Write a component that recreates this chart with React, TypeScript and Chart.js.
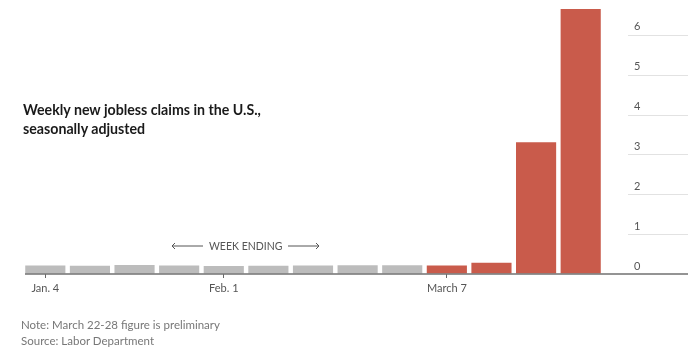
import React, { useEffect, useRef } from "react";
import { Chart, registerables } from "chart.js";

Chart.register(...registerables);

const weeks = [
  "Jan. 4", "Jan. 11", "Jan. 18", "Jan. 25", "Feb. 1", "Feb. 8", "Feb. 15",
  "Feb. 22", "Feb. 29", "March 7", "March 14", "March 21", "March 28",
];
// initial jobless claims, millions
const claims = [0.216, 0.207, 0.223, 0.216, 0.203, 0.205, 0.211, 0.219, 0.217, 0.211, 0.282, 3.307, 6.648];
const labeledWeeks = ["Jan. 4", "Feb. 1", "March 7"];
const yTicks = [0, 1, 2, 3, 4, 5, 6];
const firstSurgeWeek = "March 7";

const GRAY = "#bcbcbc";
const RED = "#c95b4b";

const rightGridPlugin = {
  id: "rightGrid",
  afterDraw(chart: any) {
    const { ctx, chartArea } = chart;
    const y = chart.scales.y;
    const x = chart.scales.x;
    ctx.save();
    ctx.strokeStyle = "#e2e2e2";
    ctx.lineWidth = 1;
    y.ticks.forEach((t: any) => {
      if (t.value === 0) return;
      const py = Math.round(y.getPixelForValue(t.value)) + 0.5;
      ctx.beginPath();
      ctx.moveTo(chartArea.right + 25, py);
      ctx.lineTo(y.right, py);
      ctx.stroke();
    });
    const by = y.getPixelForValue(0);
    ctx.strokeStyle = "#707070";
    ctx.lineWidth = 1.5;
    ctx.beginPath();
    ctx.moveTo(x.left + 2, by);
    ctx.lineTo(y.right, by);
    ctx.stroke();
    ctx.restore();
  },
};

function ClaimsChart() {
  const ref = useRef<HTMLCanvasElement | null>(null);
  useEffect(() => {
    if (!ref.current) return;
    const surgeIdx = weeks.indexOf(firstSurgeWeek);
    const chart = new Chart(ref.current, {
      type: "bar",
      data: {
        labels: weeks,
        datasets: [
          {
            data: claims,
            backgroundColor: claims.map((_, i) => (i >= surgeIdx ? RED : GRAY)),
            borderWidth: 0,
            barPercentage: 0.9,
            categoryPercentage: 1,
          },
        ],
      },
      plugins: [rightGridPlugin],
      options: {
        animation: false,
        responsive: false,
        devicePixelRatio: 1,
        layout: { padding: { left: 23, right: 11, top: 3, bottom: 0 } },
        plugins: { legend: { display: false }, tooltip: { enabled: false }, title: { display: false } },
        scales: {
          x: {
            border: { display: false },
            grid: {
              offset: false,
              drawOnChartArea: false,
              drawTicks: true,
              tickLength: 4,
              color: (c: any) =>
                c.tick && labeledWeeks.includes(weeks[c.index]) ? "#666" : "rgba(0,0,0,0)",
            },
            ticks: {
              autoSkip: false,
              maxRotation: 0,
              padding: 4,
              color: "#555",
              font: { family: "Lato", size: 11 },
              callback: (_v: any, i: number) => (labeledWeeks.includes(weeks[i]) ? weeks[i] : ""),
            },
            afterFit: (s: any) => {
              s.height = 76;
              s.paddingLeft = 0;
              s.paddingRight = 0;
            },
          },
          y: {
            position: "right",
            min: 0,
            max: 6.8,
            border: { display: false },
            grid: { display: true, drawOnChartArea: false, drawTicks: false, color: "rgba(0,0,0,0)" },
            ticks: {
              padding: 31,
              labelOffset: -8,
              color: "#555",
              font: { family: "Lato", size: 11 },
            },
            afterBuildTicks: (s: any) => {
              s.ticks = yTicks.map((v) => ({ value: v }));
            },
            afterFit: (s: any) => {
              s.width = 85;
              s.paddingTop = 0;
              s.paddingBottom = 0;
            },
          },
        },
      },
    } as any);
    return () => chart.destroy();
  }, []);
  return <canvas ref={ref} width={699} height={350} style={{ display: "block" }} />;
}

function Arrow({ dir }: { dir: "left" | "right" }) {
  return (
    <svg width={32} height={8} style={{ display: "block" }}>
      <line x1={dir === "left" ? 1 : 0} y1={4} x2={dir === "left" ? 32 : 31} y2={4} stroke="#555" strokeWidth={1} />
      {dir === "left" ? (
        <polyline points="4,1 1,4 4,7" fill="none" stroke="#555" strokeWidth={1} />
      ) : (
        <polyline points="28,1 31,4 28,7" fill="none" stroke="#555" strokeWidth={1} />
      )}
    </svg>
  );
}

export default function App() {
  return (
    <div
      style={{
        position: "fixed",
        left: 0,
        top: 0,
        width: 699,
        height: 350,
        background: "#fff",
        overflow: "hidden",
        fontFamily: "Lato, sans-serif",
      }}
    >
      <ClaimsChart />
      <div
        style={{
          position: "absolute",
          left: 23,
          top: 100,
          fontWeight: 700,
          fontSize: 14.2,
          lineHeight: "19px",
          color: "#1a1a1a",
        }}
      >
        Weekly new jobless claims in the U.S.,
        <br />
        seasonally adjusted
      </div>
      <div
        style={{
          position: "absolute",
          left: 171,
          top: 240,
          display: "flex",
          alignItems: "center",
          gap: 6,
          fontSize: 10.5,
          color: "#555",
        }}
      >
        <Arrow dir="left" />
        <span>WEEK ENDING</span>
        <Arrow dir="right" />
      </div>
      <div
        style={{
          position: "absolute",
          left: 21,
          top: 317,
          fontSize: 11.5,
          lineHeight: "16px",
          color: "#777",
        }}
      >
        Note: March 22-28 figure is preliminary
        <br />
        Source: Labor Department
      </div>
    </div>
  );
}
